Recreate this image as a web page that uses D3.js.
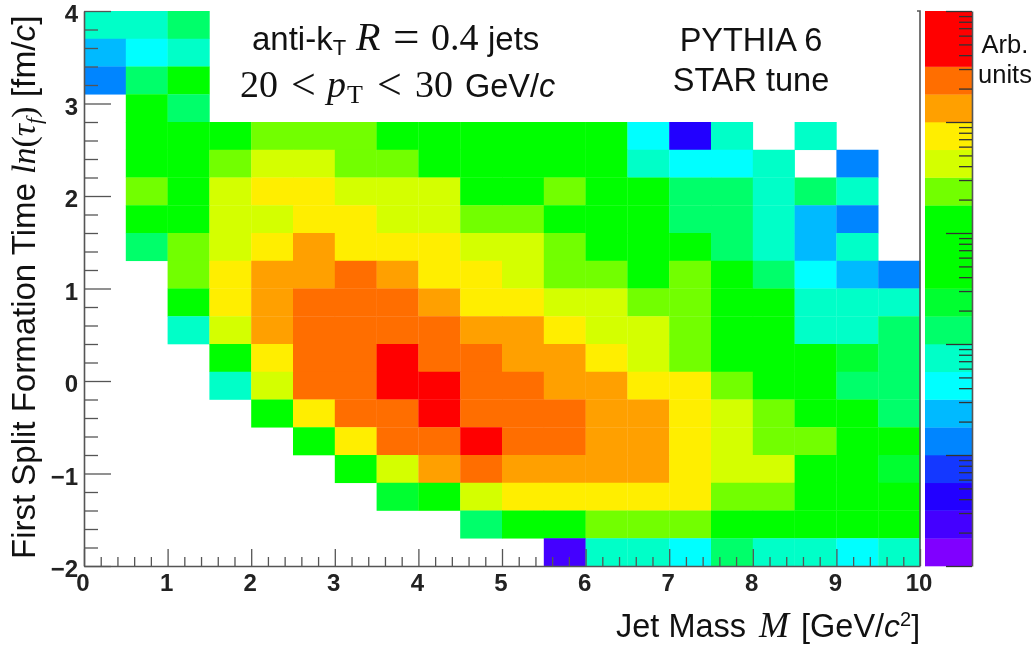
<!DOCTYPE html>
<html><head><meta charset="utf-8">
<script src="https://cdn.jsdelivr.net/npm/d3@7/dist/d3.min.js"></script>
<style>html,body{margin:0;padding:0;background:#fff}svg{display:block;filter:blur(0.5px)}</style>
</head><body><svg id="c" width="1036" height="647"></svg>
<script>
const __ = null;
// colour level of each bin (0 = lowest, 19 = highest), first row is the top of the plot
const levels = [
 [ 7, 7, 8,__,__,__,__,__,__,__,__,__,__,__,__,__,__,__,__,__],
 [ 5, 6, 7,__,__,__,__,__,__,__,__,__,__,__,__,__,__,__,__,__],
 [ 4, 8,11,__,__,__,__,__,__,__,__,__,__,__,__,__,__,__,__,__],
 [__,11, 8,__,__,__,__,__,__,__,__,__,__,__,__,__,__,__,__,__],
 [__,11,11,11,13,13,13,11,11,11,11,11,11, 6, 2, 7,__, 7,__,__],
 [__,11,11,13,14,14,13,13,11,11,11,11,11, 7, 6, 6, 7,__, 4,__],
 [__,13,11,14,15,15,14,14,14,11,11,13,11,11, 8, 8, 7, 8, 7,__],
 [__,11,11,14,14,15,15,14,14,13,13,11,11,11, 8, 8, 7, 5, 4,__],
 [__, 8,13,14,15,16,15,15,15,14,14,13,11,11,11, 8, 7, 5, 7,__],
 [__,__,13,15,16,16,17,16,15,15,14,13,13,11,13,11, 8, 6, 5, 4],
 [__,__,11,15,16,17,17,17,16,15,15,14,14,13,13,11,11, 7, 7, 7],
 [__,__, 7,14,16,17,17,17,17,16,16,15,14,14,13,11,11, 7, 7, 8],
 [__,__,__,11,15,17,17,18,17,17,16,16,15,14,13,11,11,11, 9, 8],
 [__,__,__, 7,14,17,17,18,18,17,17,16,16,15,15,13,11,11, 8, 8],
 [__,__,__,__,11,15,17,17,18,17,17,17,16,16,15,14,13,11,11, 8],
 [__,__,__,__,__,11,15,17,17,18,17,17,16,16,15,14,13,13,11,11],
 [__,__,__,__,__,__,11,14,16,17,16,16,16,16,15,14,14,11,11, 9],
 [__,__,__,__,__,__,__, 9,11,14,15,15,15,15,15,13,13,11,11,11],
 [__,__,__,__,__,__,__,__,__, 8,11,11,13,13,13,11,11,11,11,11],
 [__,__,__,__,__,__,__,__,__,__,__, 1, 7, 7, 6, 8, 7, 7, 6, 7]
];
const palette = ["#8000ff","#4400ff","#2200ff","#1438ff","#0085ff","#00baff","#00ffff","#00ffc8","#00ff6a","#00ff30",
                 "#00ff00","#00ff00","#00ff00","#72ff00","#d4ff00","#ffee00","#ffa000","#ff6e00","#ff0000","#ff0000"];
const xDomain = [0, 10], yDomain = [-2, 4];
const xTickLabels = [0,1,2,3,4,5,6,7,8,9,10];
const yTickLabels = [-2,-1,0,1,2,3,4];
const binW = 0.5, binH = 0.3;
const zDomain = [1e-5, 1];

const svg = d3.select("#c");
const L = 84, R = 920, T = 11, B = 566, PL = 925, PR = 972;
const x = d3.scaleLinear().domain(xDomain).range([L, R]);
const y = d3.scaleLinear().domain(yDomain).range([B, T]);
const z = d3.scaleLog().domain(zDomain).range([B, T]);
const zLevel = d3.scaleLinear().domain([0, palette.length]).range([B, T]);
const color = d3.scaleOrdinal().domain(d3.range(palette.length)).range(palette);

// heat map
const cells = levels.flatMap((row, r) => row.map((v, c) => ({r, c, v}))).filter(d => d.v !== null);
svg.append("g").selectAll("rect").data(cells).join("rect")
  .attr("x", d => x(d.c * binW))
  .attr("width", d => x((d.c + 1) * binW) - x(d.c * binW) + 0.3)
  .attr("y", d => y(yDomain[1] - d.r * binH))
  .attr("height", d => y(yDomain[1] - (d.r + 1) * binH) - y(yDomain[1] - d.r * binH) + 0.3)
  .attr("fill", d => color(d.v));

// palette
svg.append("g").selectAll("rect").data(d3.range(palette.length)).join("rect")
  .attr("x", PL).attr("width", PR - PL)
  .attr("y", d => zLevel(d + 1)).attr("height", d => zLevel(d) - zLevel(d + 1) + 0.3)
  .attr("fill", d => color(d));

const axisCol = "#555";
function styleAxis(g) {
  g.selectAll("text").remove();
  g.select(".domain").attr("stroke", axisCol).attr("stroke-width", 1.6);
  g.selectAll(".tick line").attr("stroke", axisCol).attr("stroke-width", 1.3);
}
const minorX = d3.range(0, 51).map(i => i * 0.2);
const minorY = d3.range(0, 31).map(i => -2 + i * 0.2);
const isInt = v => Math.abs(v - Math.round(v)) < 1e-6;

const gx = svg.append("g").attr("transform", `translate(0,${B})`)
  .call(d3.axisTop(x).tickValues(minorX).tickSizeOuter(0).tickFormat(""));
styleAxis(gx);
gx.selectAll(".tick line").attr("y2", d => isInt(d) ? -17 : -9);

const gy = svg.append("g").attr("transform", `translate(${L},0)`)
  .call(d3.axisRight(y).tickValues(minorY).tickSizeOuter(0).tickFormat(""));
styleAxis(gy);
gy.selectAll(".tick line").attr("x2", d => isInt(d) ? 27 : 14);

// right frame line
svg.append("path").attr("d", d3.line()([[R - 3, T], [R, T], [R, B]])).attr("fill", "none")
  .attr("stroke", axisCol).attr("stroke-width", 1.6);

// palette axis
const zTicks = d3.range(-5, 0).flatMap(e => d3.range(1, 10).map(m => m * Math.pow(10, e))).concat([1]);
const gz = svg.append("g").attr("transform", `translate(${PR},0)`)
  .call(d3.axisLeft(z).tickValues(zTicks).tickSizeOuter(0).tickFormat(""));
styleAxis(gz);
gz.selectAll(".tick line").attr("stroke", "#333")
  .attr("x2", d => isInt(Math.log10(d)) ? -26 : -13);

// tick labels
const sans = "'Liberation Sans', Arial, sans-serif", serif = "'Liberation Serif', serif";
const tickStyle = s => s.attr("font-family", sans).attr("font-size", 24).attr("font-weight", 700).attr("fill", "#222");
svg.append("g").selectAll("text").data(xTickLabels).join("text")
  .attr("x", d => x(d) - 1).attr("y", 591).attr("text-anchor", "middle").text(d => d).call(tickStyle);
svg.append("g").selectAll("text").data(yTickLabels).join("text")
  .attr("x", 78).attr("y", d => y(d) + 11).attr("text-anchor", "end")
  .text(d => d < 0 ? "\u2212" + (-d) : d).call(tickStyle);

function rich(x0, y0, anchor, parts, rot) {
  const t = svg.append("text").attr("x", x0).attr("y", y0).attr("text-anchor", anchor).attr("fill", "#111");
  if (rot) t.attr("transform", `rotate(${rot} ${x0} ${y0})`);
  parts.forEach(p => {
    const s = t.append("tspan").text(p.t)
      .attr("font-family", p.serif ? serif : sans)
      .attr("font-size", p.s)
      .attr("font-style", p.i ? "italic" : "normal");
    if (p.dy) s.attr("dy", p.dy);
    if (p.x !== undefined) s.attr("x", p.x);
  });
  return t;
}
// axis titles
rich(616, 637, "start", [
  {t:"Jet Mass", s:32.5}, {t:"M", s:36, serif:1, i:1, x:759}, {t:"[GeV/", s:32.5, x:801}, {t:"c", s:32, i:1},
  {t:"2", s:20, dy:-11}, {t:"]", s:32, dy:11}
]);
rich(35, 559, "start", [
  {t:"First Split Formation Time ", s:33}, {t:"ln", s:34, serif:1, i:1}, {t:"(", s:34, serif:1}, {t:"\u03c4", s:34, serif:1, i:1},
  {t:"f", s:22, serif:1, i:1, dy:6}, {t:")", s:34, serif:1, dy:-6}, {t:" [fm/", s:33.5}, {t:"c", s:33.5, i:1}, {t:"]", s:33.5}
], -90);

// annotations
rich(252, 50, "start", [
  {t:"anti-k", s:33}, {t:"T", s:22, dy:5}, {t:"R", s:40, serif:1, i:1, dy:-5, x:356}, {t:"=", s:47, serif:1, dy:2, x:393},
  {t:"0.4", s:38, serif:1, dy:-2, x:431}, {t:"jets", s:33, x:488}
]);
rich(240, 97, "start", [
  {t:"20", s:38, serif:1}, {t:"<", s:44, serif:1, dy:2, x:291}, {t:"p", s:38, serif:1, i:1, dy:-2, x:327}, {t:"T", s:26, serif:1, dy:6, x:347},
  {t:"<", s:44, serif:1, dy:-4, x:377}, {t:"30", s:38, serif:1, dy:-2, x:415}, {t:"GeV/", s:32.5, x:465}, {t:"c", s:32.5, i:1}
]);
rich(751, 51, "middle", [{t:"PYTHIA 6", s:32.5}]);
rich(751, 91, "middle", [{t:"STAR tune", s:32.5}]);
rich(1005, 53, "middle", [{t:"Arb.", s:25.5}]);
rich(1005, 83, "middle", [{t:"units", s:25.5}]);
</script></body></html>
